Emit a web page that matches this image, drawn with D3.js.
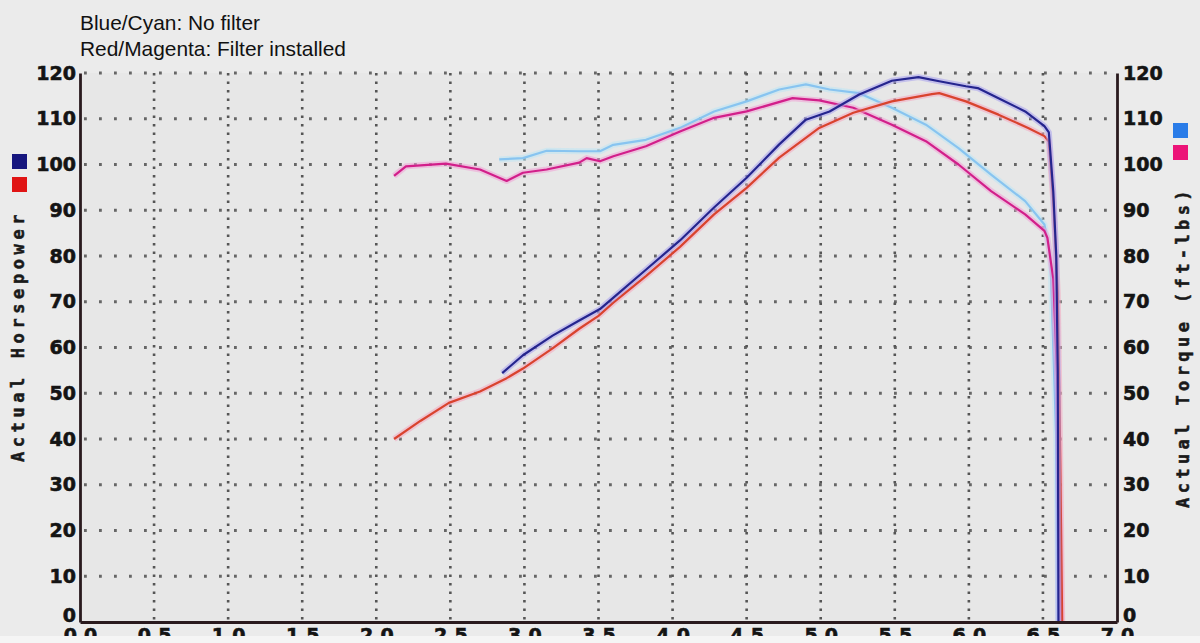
<!DOCTYPE html>
<html><head><meta charset="utf-8">
<script src="https://cdn.jsdelivr.net/npm/d3@7"></script>
<style>html,body{margin:0;padding:0;background:#ebebeb;overflow:hidden} svg{display:block}</style>
</head><body>
<svg id="chart" width="1200" height="643"></svg>
<script>
// ---- data (RPM x1000, HP / ft-lbs) ----
const xTicks = [0,0.5,1,1.5,2,2.5,3,3.5,4,4.5,5,5.5,6,6.5,7];
const xTickLabels = ["0.0","0.5","1.0","1.5","2.0","2.5","3.0","3.5","4.0","4.5","5.0","5.5","6.0","6.5","7.0"];
const yTicks = [0,10,20,30,40,50,60,70,80,90,100,110,120];

const legendLines = ["Blue/Cyan: No filter","Red/Magenta: Filter installed"];
const leftTitle = "Actual Horsepower";
const rightTitle = "Actual Torque (ft-lbs)";

const hpNoFilterRpm = [2.85,2.99,3.19,3.37,3.51,3.64,3.82,4.05,4.28,4.5,4.72,4.9,5.06,5.26,5.48,5.66,5.8,5.98,6.06,6.2,6.38,6.51,6.54,6.57,6.59,6.60,6.605];
const hpNoFilter    = [54.4,58.3,62.6,65.9,68.4,72.0,77.0,83.4,90.6,97.1,104.4,109.8,111.6,115.3,118.3,119.1,118.2,117.1,116.7,114.5,111.6,108.4,107,94,80,55,0];

const hpFilterRpm = [2.12,2.3,2.49,2.7,2.88,2.99,3.19,3.37,3.5,3.6,3.82,4.05,4.28,4.5,4.72,4.99,5.22,5.48,5.75,5.8,5.98,6.2,6.4,6.51,6.54,6.57,6.6,6.615,6.63];
const hpFilter    = [40.0,44.0,47.9,50.4,53.3,55.4,59.8,64.1,66.9,69.8,75.6,82.0,89.1,94.9,101.5,108.0,111.3,113.8,115.4,115.6,113.8,110.9,108.0,106.2,105,92,72,40,0];

const tqNoFilterRpm = [2.83,2.99,3.15,3.37,3.51,3.6,3.82,4.05,4.28,4.5,4.72,4.9,5.06,5.26,5.48,5.71,5.93,6.15,6.38,6.51,6.55,6.59,6.605];
const tqNoFilter    = [101.1,101.4,103.0,102.9,102.9,104.3,105.4,108.0,111.6,113.8,116.4,117.5,116.4,115.6,112.4,108.7,103.6,97.8,92.0,86.9,80,40,0];

const tqFilterRpm = [2.12,2.2,2.47,2.7,2.88,2.99,3.15,3.37,3.42,3.51,3.6,3.82,4.05,4.28,4.5,4.81,4.99,5.22,5.48,5.71,5.93,6.15,6.38,6.51,6.53,6.57,6.6,6.625];
const tqFilter    = [97.5,99.6,100.2,98.9,96.4,98.2,98.9,100.4,101.4,100.7,101.8,104.0,107.2,110.2,111.6,114.5,114.0,112.4,108.7,105.1,100.0,94.2,89.1,85.5,84,75,50,0];

// ---- drawing ----
const svg = d3.select("#chart");
const x = d3.scaleLinear().domain([0,7]).range([80,1117]);
const y = d3.scaleLinear().domain([0,120]).range([622,73]);
const tickFont = "'DejaVu Sans', sans-serif";

svg.append("rect").attr("width",1200).attr("height",643).attr("fill","#ebebeb");
svg.append("rect").attr("x",x(0)).attr("y",y(120)).attr("width",x(7)-x(0)).attr("height",y(0)-y(120)).attr("fill","#e7e7e7");

// grid
const grid = svg.append("g");
grid.selectAll("line.h").data(yTicks.filter(d=>d>0)).join("line")
  .attr("x1",x(0)+4).attr("x2",x(7)-2).attr("y1",d=>y(d)).attr("y2",d=>y(d))
  .attr("stroke","#666").attr("stroke-width",2.8).attr("stroke-dasharray","2.8,12.2");
grid.selectAll("line.v").data(xTicks.filter(d=>d>0&&d<7)).join("line")
  .attr("x1",d=>x(d)).attr("x2",d=>x(d)).attr("y1",y(120)).attr("y2",y(0)-2)
  .attr("stroke","#555").attr("stroke-width",2.6).attr("stroke-dasharray","2.4,6.1");

// series
const series = [
  {rpm: tqNoFilterRpm, val: tqNoFilter, color:"#88c4f0", halo:"#bde6f4"},
  {rpm: tqFilterRpm,   val: tqFilter,   color:"#d21f8a", halo:"#f0a0d6"},
  {rpm: hpFilterRpm,   val: hpFilter,   color:"#d9432e", halo:"#f4a8c0"},
  {rpm: hpNoFilterRpm, val: hpNoFilter, color:"#25258e", halo:"#a8a0ee"}
];
const line = d3.line().x(d=>x(d[0])).y(d=>y(d[1]));
series.forEach(s=>{
  const pts = s.rpm.map((r,i)=>[r, s.val[i]]);
  svg.append("path").attr("d",line(pts)).attr("fill","none")
    .attr("stroke",s.halo).attr("stroke-width",6).attr("stroke-opacity",0.55).attr("stroke-linejoin","round");
  svg.append("path").attr("d",line(pts)).attr("fill","none")
    .attr("stroke",s.color).attr("stroke-width",2.2).attr("stroke-linejoin","round");
});

// axes
function styleAxis(g){
  g.selectAll("text").attr("font-family",tickFont).attr("font-weight","bold")
    .attr("font-size","19px").attr("fill","#141414")
    .attr("stroke","#141414").attr("stroke-width",0.6);
  g.select(".domain").attr("stroke","#2a1a1e").attr("stroke-width",2.8);
}
const zeroShift = g => g.selectAll(".tick").filter(d=>d===0).select("text").attr("dy","-0.05em");
svg.append("g").attr("transform",`translate(${x(0)},0)`)
  .call(d3.axisLeft(y).tickValues(yTicks).tickSize(0).tickSizeOuter(0).tickPadding(4))
  .call(styleAxis).call(zeroShift);
svg.append("g").attr("transform",`translate(${x(7)},0)`)
  .call(d3.axisRight(y).tickValues(yTicks).tickSize(0).tickSizeOuter(0).tickPadding(6))
  .call(styleAxis).call(zeroShift);
svg.append("g").attr("transform",`translate(0,${y(0)})`)
  .call(d3.axisBottom(x).tickValues(xTicks).tickFormat((d,i)=>xTickLabels[i]).tickSize(0).tickSizeOuter(0).tickPadding(7))
  .call(styleAxis);

// bottom strip (clips the x labels like the reference)
svg.append("rect").attr("x",0).attr("y",636).attr("width",1200).attr("height",7).attr("fill","#f5f5f5");

// axis titles
svg.append("text").attr("transform","translate(24,336) rotate(-90)")
  .attr("text-anchor","middle").attr("font-family","'DejaVu Sans Mono', monospace")
  .attr("font-weight","bold").attr("font-size","17px").attr("letter-spacing","4.6px")
  .attr("fill","#1a1a1a").attr("stroke","#1a1a1a").attr("stroke-width",0.5).text(leftTitle);
svg.append("text").attr("transform","translate(1189,347) rotate(-90)")
  .attr("text-anchor","middle").attr("font-family","'DejaVu Sans Mono', monospace")
  .attr("font-weight","bold").attr("font-size","17px").attr("letter-spacing","4.4px")
  .attr("fill","#1a1a1a").attr("stroke","#1a1a1a").attr("stroke-width",0.5).text(rightTitle);

// legend swatches
const swatches = [
  {x:12, y:154, c:"#16167e"}, {x:12, y:177, c:"#e01414"},
  {x:1173, y:123, c:"#2a7ce8"}, {x:1173, y:145, c:"#ec1478"}
];
svg.selectAll("rect.sw").data(swatches).join("rect")
  .attr("x",d=>d.x).attr("y",d=>d.y).attr("width",15).attr("height",15).attr("fill",d=>d.c);

// legend text
svg.selectAll("text.leg").data(legendLines).join("text")
  .attr("x",80).attr("y",(d,i)=>29.5+i*26.5)
  .attr("font-family","'Liberation Sans', Arial, sans-serif").attr("font-size","20.9px")
  .attr("fill","#111").text(d=>d);
</script>
</body></html>
